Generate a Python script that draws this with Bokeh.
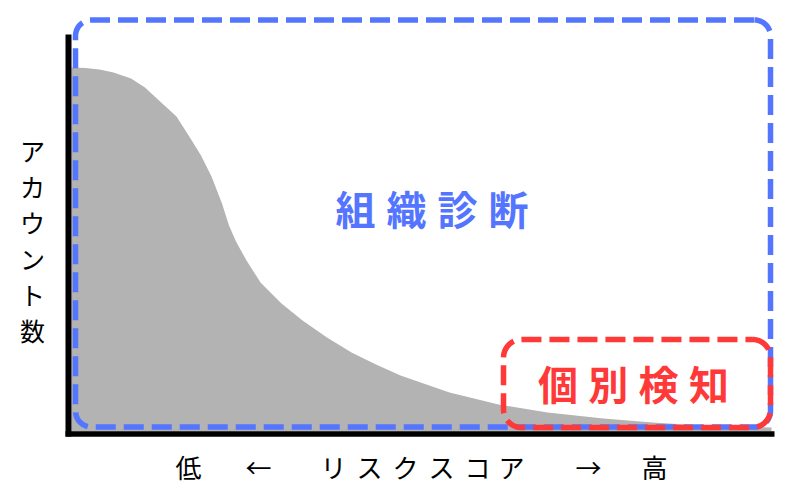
import numpy as np
from bokeh.plotting import figure
from bokeh.models import Range1d
from bokeh.core.properties import value
from bokeh.embed import file_html
from bokeh.resources import INLINE

# ---- data -------------------------------------------------------------
risk_score = [0, 0.2, 0.4, 0.6, 0.85, 1.05, 1.25, 1.5, 1.7, 1.85, 2.0, 2.15,
              2.25, 2.35, 2.5, 2.7, 3.0, 3.3, 3.65, 4.0, 4.35, 4.7, 5.4, 6.1,
              6.8, 7.6, 8.3, 9.0, 10.0]
account_count = [91, 90.9, 90.5, 89.75, 88.25, 86, 82.75, 78.75, 73.25, 69,
                 63.75, 57, 51.5, 47.5, 42.75, 37.25, 32, 27.75, 23.5, 19.75,
                 16.75, 14, 9.75, 6.75, 4.75, 3.25, 2.25, 1.5, 1.0]

y_label = "アカウント数"
x_label_chars = ["低", "←", "リ", "ス", "ク", "ス", "コ", "ア", "→", "高"]
org_label = "組織診断"
ind_label = "個別検知"

FONT = "Noto Sans CJK JP"
BLUE = "#5475FF"
RED = "#FF3838"
GRAY = "#B3B3B3"

# ---- layout helpers (page pixel -> data) -----------------------------
def X(px):
    return (px - 71) / 70.0

def Y(py):
    return (431 - py) / 4.0

def rounded_rect(x0, y0, x1, y1, r, n=16):
    pts = []
    def arc(cx, cy, a0, a1):
        for t in np.linspace(a0, a1, n):
            pts.append((cx + r * np.cos(t), cy + r * np.sin(t)))
    arc(x1 - r, y0 + r, -np.pi / 2, 0)
    arc(x1 - r, y1 - r, 0, np.pi / 2)
    arc(x0 + r, y1 - r, np.pi / 2, np.pi)
    arc(x0 + r, y0 + r, np.pi, 1.5 * np.pi)
    pts.append(pts[0])
    xs = [X(a) for a, b in pts]
    ys = [Y(b) for a, b in pts]
    return xs, ys

p = figure(width=784, height=484, output_backend="svg", toolbar_location=None,
           x_range=Range1d(-71 / 70.0, (784 - 71) / 70.0),
           y_range=Range1d((431 - 484) / 4.0, 431 / 4.0),
           x_axis_type=None, y_axis_type=None, min_border=0,
           outline_line_color=None, background_fill_color="white",
           border_fill_color="white")
p.grid.visible = False

# distribution
p.varea(x=risk_score, y1=[0] * len(risk_score), y2=account_count, fill_color=GRAY)

# axes
p.line([X(68), X(68)], [Y(34), Y(436)], line_width=6, color="black", line_cap="butt")
p.line([X(65), X(774)], [Y(433.5), Y(433.5)], line_width=5.5, color="black", line_cap="butt")

# boxes
bx, by = rounded_rect(75, 19.5, 770, 426.5, 16)
p.line(bx, by, line_width=5.5, color=BLUE, line_dash="20 8")
rx, ry = rounded_rect(503, 339, 770, 427, 18)
p.line(rx, ry, line_width=5.5, color=RED, line_dash="20 8")

# region labels
p.text(x=[X(355 + 51 * i) for i in range(len(org_label))], y=[Y(207)] * len(org_label),
       text=list(org_label), text_font=value(FONT), text_font_size="40px",
       text_font_style="bold", text_color=BLUE, text_align="center",
       text_baseline="middle")
p.text(x=[X(557.5 + 50.3 * i) for i in range(len(ind_label))], y=[Y(382)] * len(ind_label),
       text=list(ind_label), text_font=value(FONT), text_font_size="40px",
       text_font_style="bold", text_color=RED, text_align="center",
       text_baseline="middle")

# y label (stacked)
p.text(x=[X(32)] * len(y_label), y=[Y(149 + 36 * i) for i in range(len(y_label))],
       text=list(y_label), text_font=value(FONT), text_font_size="25px",
       text_color="black", text_align="center", text_baseline="middle")

# x label
x_label_px = [188, 258, 333, 369, 405, 441, 477, 511, 588, 654]
p.text(x=[X(v) for v in x_label_px], y=[Y(466)] * len(x_label_chars),
       text=x_label_chars, text_font=value(FONT), text_font_size="26px",
       text_color="black", text_align="center", text_baseline="middle")

open("out.html", "w").write(file_html(p, INLINE))
